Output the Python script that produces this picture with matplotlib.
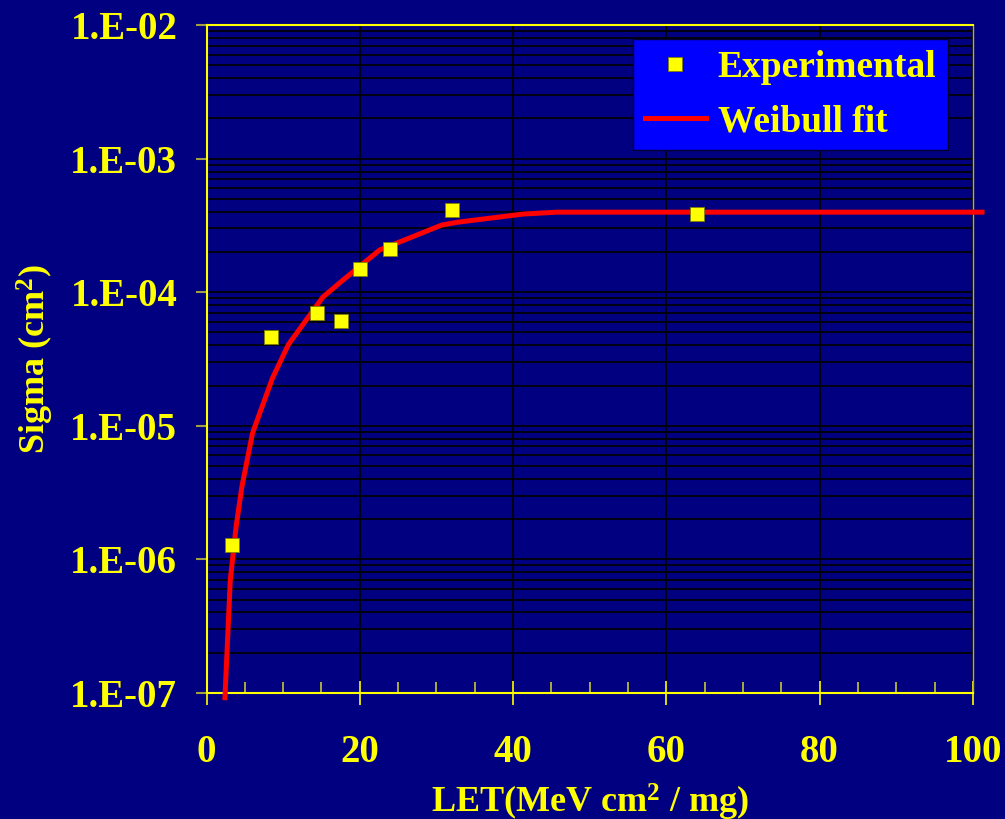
import math
import matplotlib
matplotlib.use("Agg")
import matplotlib.pyplot as plt
from matplotlib.ticker import FixedLocator, LogLocator, NullFormatter, FuncFormatter

plt.rcParams['font.family'] = 'Liberation Serif'
plt.rcParams['font.weight'] = 'bold'
plt.rcParams['axes.labelweight'] = 'bold'
plt.rcParams['mathtext.fontset'] = 'custom'
plt.rcParams['mathtext.rm'] = 'Liberation Serif:bold'
plt.rcParams['mathtext.bf'] = 'Liberation Serif:bold'
plt.rcParams['mathtext.default'] = 'bf'

# experimental cross sections
let_exp = [3.3, 8.4, 14.4, 17.6, 20.0, 23.9, 32.0, 64.0]
sigma_exp = [1.29e-6, 4.6e-5, 7.0e-5, 6.1e-5, 1.5e-4, 2.12e-4, 4.1e-4, 3.85e-4]

# Weibull fit
let_fit = [2.4, 3.1, 3.85, 4.6, 6.0, 8.6, 10.7, 15.2, 17.8, 22.6, 30.7, 32.8, 41.3, 45.7, 101.2]
sigma_fit = [9.2e-8, 7.0e-7, 1.74e-6, 3.46e-6, 8.8e-6, 2.27e-5, 4.07e-5, 9.2e-5,
             1.23e-4, 2.07e-4, 3.18e-4, 3.34e-4, 3.84e-4, 3.97e-4, 3.97e-4]

x_ticks = [0, 20, 40, 60, 80, 100]
y_ticks = [1e-7, 1e-6, 1e-5, 1e-4, 1e-3, 1e-2]

navy = '#000080'
yellow = '#FFFF00'

fig = plt.figure(figsize=(10.05, 8.19), dpi=100, facecolor=navy)
ax = fig.add_axes([0.2055, 0.154, 0.7625, 0.8155])
ax.set_facecolor(navy)
ax.set_yscale('log')
ax.set_xlim(0, 100)
ax.set_ylim(1e-7, 1e-2)

# grid
ax.xaxis.set_major_locator(FixedLocator(x_ticks))
ax.xaxis.set_minor_locator(FixedLocator([v for v in range(5, 100, 5) if v % 20]))
ax.yaxis.set_major_locator(FixedLocator(y_ticks))
ax.yaxis.set_minor_locator(LogLocator(base=10, subs=range(2, 10)))
ax.yaxis.set_minor_formatter(NullFormatter())
ax.yaxis.set_major_formatter(FuncFormatter(lambda v, p: '1.E-%02d' % round(-math.log10(v))))
ax.grid(True, which='major', axis='both', color='black', lw=1.2)
ax.grid(True, which='minor', axis='y', color='black', lw=1.2)
ax.set_axisbelow(True)

ax.plot(let_fit, sigma_fit, color='#FF0000', lw=3.6, clip_on=False, zorder=3,
        label='Weibull fit')
ax.plot(let_exp, sigma_exp, ls='none', marker='s', ms=10, mfc=yellow, mec='#808000',
        mew=0.6, zorder=4, label='Experimental')

for s in ['left', 'bottom', 'top']:
    ax.spines[s].set_color(yellow)
    ax.spines[s].set_linewidth(1.5)
ax.spines['right'].set_color('#B0B040')
ax.spines['right'].set_linewidth(1.0)

ax.tick_params(axis='x', which='major', direction='inout', length=17, width=1.2,
               color=yellow, labelcolor=yellow, labelsize=28, pad=21)
ax.tick_params(axis='x', which='minor', direction='in', length=8, width=1.2, color='#C8C830')
ax.tick_params(axis='y', which='major', direction='out', length=8, width=1.5,
               color='#A0A040', labelcolor=yellow, labelsize=28, pad=13)
ax.tick_params(axis='y', which='minor', length=0)

ax.set_xlabel(r'LET(MeV cm$^{2}$ / mg)', color=yellow, fontsize=26)
ax.set_ylabel(r'Sigma (cm$^{2}$)', color=yellow, fontsize=26)
ax.xaxis.set_label_coords(0.5, -0.134)
ax.yaxis.set_label_coords(-0.197, 0.50)

handles, labels = ax.get_legend_handles_labels()
leg = ax.legend(handles[::-1], labels[::-1], loc='upper right', bbox_to_anchor=(0.967, 0.979),
                facecolor='#0000FF', edgecolor='#000030', framealpha=1, fancybox=False,
                fontsize=27, labelcolor=yellow, handlelength=1.65, handletextpad=0.3,
                borderpad=0.3, labelspacing=0.5, borderaxespad=0)
leg.get_frame().set_linewidth(1.0)

fig.savefig('out.png', dpi=100, facecolor=navy)
